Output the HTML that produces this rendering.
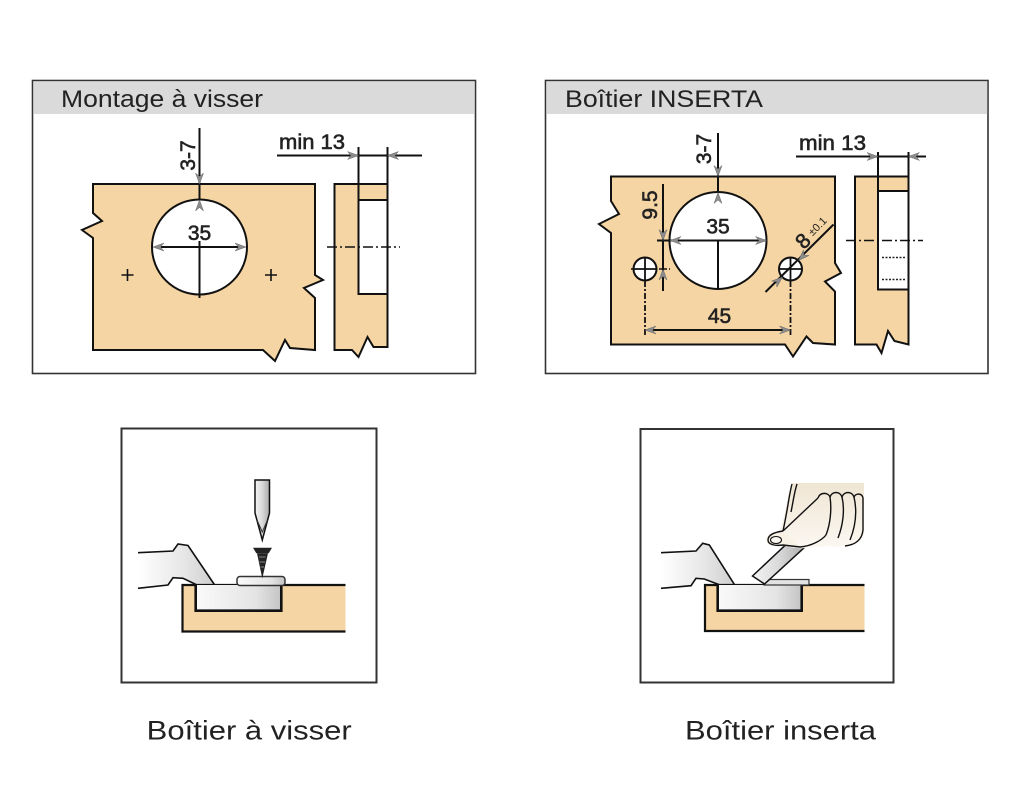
<!DOCTYPE html>
<html><head><meta charset="utf-8"><style>
html,body{margin:0;padding:0;background:#fff;}
svg{display:block;}
text{font-family:"Liberation Sans",Arial,sans-serif;fill:#222;}
.dim{font-size:21px;stroke:#222;stroke-width:0.6;}
.ln{stroke:#111;stroke-width:2;fill:none;}
.ar{stroke:none;fill:none;marker-end:url(#a);}
</style></head><body>
<svg width="1024" height="789" viewBox="0 0 1024 789" xmlns="http://www.w3.org/2000/svg">
<defs>
<marker id="a" markerWidth="11" markerHeight="9" refX="11" refY="4.5" orient="auto" markerUnits="userSpaceOnUse">
<path d="M0,0.5 L11,4.5 L0,8.5 L3.5,4.5 Z" fill="#8c8c8c" stroke="#666" stroke-width="0.5"/>
</marker>
<linearGradient id="hand" x1="0" y1="0" x2="1" y2="0">
<stop offset="0" stop-color="#fff"/><stop offset="0.6" stop-color="#e6e6e6"/><stop offset="1" stop-color="#cfcfcf"/>
</linearGradient>
<linearGradient id="cup" x1="0" y1="0" x2="1" y2="0">
<stop offset="0" stop-color="#fafafa"/><stop offset="0.7" stop-color="#e4e4e4"/><stop offset="1" stop-color="#c4c4c4"/>
</linearGradient>
<linearGradient id="steel" x1="0" y1="0" x2="1" y2="0">
<stop offset="0" stop-color="#f4f4f4"/><stop offset="0.5" stop-color="#d9d9d9"/><stop offset="1" stop-color="#aaa"/>
</linearGradient>
<linearGradient id="skin" x1="0" y1="0" x2="0" y2="1">
<stop offset="0" stop-color="#efe5d3"/><stop offset="1" stop-color="#fbf8f2"/>
</linearGradient>
</defs>

<!-- ============ TOP LEFT PANEL ============ -->
<rect x="32.5" y="80.5" width="443" height="293" fill="#fff" stroke="#333" stroke-width="1.6"/>
<rect x="33.3" y="81.3" width="441.4" height="32.7" fill="#dadada"/>
<text x="61" y="107" font-size="24" textLength="202" lengthAdjust="spacingAndGlyphs">Montage à visser</text>

<path d="M93,184 L315,184 L315,275 L323,280 L304,288 L315,298 L315,350 L290,348 L285,340 L275,361 L263,350 L93,350 L93,238 L82,230 L102,221 L93,213 Z" fill="#f5d5a3" stroke="#111" stroke-width="2" stroke-linejoin="miter"/>
<circle cx="199.5" cy="247" r="47.5" fill="#fff" stroke="#111" stroke-width="2"/>
<line class="ln" x1="199.5" y1="128" x2="199.5" y2="200"/>
<line class="ln" x1="199.5" y1="241" x2="199.5" y2="298"/>
<line class="ln" x1="155" y1="247" x2="244" y2="247"/>
<path class="ar" d="M199.5,170 L199.5,184"/>
<path class="ar" d="M199.5,213 L199.5,200"/>
<path class="ar" d="M166,247 L153,247"/>
<path class="ar" d="M233,247 L246,247"/>
<text class="dim" x="199.5" y="240" text-anchor="middle" font-size="22">35</text>
<text class="dim" transform="translate(195,155.5) rotate(-90)" text-anchor="middle">3-7</text>
<path d="M121.5,275 h12 M127.5,269 v12 M265,275 h12 M271,269 v12" stroke="#111" stroke-width="1.6"/>

<path d="M334.5,184 L387.5,184 L387.5,347 L373.5,347 L367.5,337 L358.5,357 L352,350 L334.5,350 Z" fill="#f5d5a3" stroke="#111" stroke-width="2"/>
<rect x="358.5" y="200" width="29" height="94" fill="#fff"/>
<path d="M358.5,147 L358.5,294 L387.5,294 M358.5,200 L387.5,200 M387.5,147 L387.5,347" class="ln"/>
<line class="ln" x1="277" y1="155.5" x2="422" y2="155.5"/>
<path class="ar" d="M345,155.5 L358.5,155.5"/>
<path class="ar" d="M401,155.5 L387.5,155.5"/>
<text class="dim" x="279" y="149" font-size="19" textLength="66" lengthAdjust="spacingAndGlyphs">min 13</text>
<line x1="327" y1="247" x2="400" y2="247" stroke="#111" stroke-width="1.6" stroke-dasharray="10,3,2,3"/>

<!-- ============ TOP RIGHT PANEL ============ -->
<rect x="545.5" y="80.5" width="442.5" height="293" fill="#fff" stroke="#333" stroke-width="1.6"/>
<rect x="546.3" y="81.3" width="440.9" height="32.7" fill="#dadada"/>
<text x="565" y="107" font-size="24" textLength="198" lengthAdjust="spacingAndGlyphs">Boîtier INSERTA</text>

<path d="M611,176.5 L835,176.5 L835,263 L841,273 L825,281.5 L835,291.5 L835,344.5 L813,343 L806.5,336.5 L793,356.5 L785,344.5 L611,344.5 L611,233 L599,224 L619,214 L611,201 Z" fill="#f5d5a3" stroke="#111" stroke-width="2"/>
<circle cx="718" cy="240.5" r="48.5" fill="#fff" stroke="#111" stroke-width="2"/>
<line class="ln" x1="718" y1="133" x2="718" y2="192.5"/>
<line class="ln" x1="718" y1="240" x2="718" y2="289"/>
<line class="ln" x1="657" y1="240.5" x2="765" y2="240.5"/>
<path class="ar" d="M718,163 L718,176.5"/>
<path class="ar" d="M718,205.5 L718,192.5"/>
<path class="ar" d="M683,240.5 L670,240.5"/>
<path class="ar" d="M753,240.5 L766.5,240.5"/>
<text class="dim" x="718" y="233.5" text-anchor="middle" font-size="22">35</text>
<text class="dim" transform="translate(711,149) rotate(-90)" text-anchor="middle">3-7</text>

<!-- 9.5 -->
<line class="ln" x1="663" y1="184" x2="663" y2="291" stroke-width="1.8"/>
<path class="ar" d="M663,227 L663,240.5"/>
<path class="ar" d="M663,282 L663,269"/>
<text class="dim" transform="translate(657,205) rotate(-90)" text-anchor="middle">9.5</text>

<!-- small holes -->
<line x1="631" y1="269" x2="670" y2="269" stroke="#111" stroke-width="1.6" stroke-dasharray="8,2,2,2"/>
<circle cx="645" cy="269" r="11.5" fill="#fff" stroke="#111" stroke-width="2"/>
<path d="M633.5,269 h23 M645,257.5 v23" stroke="#111" stroke-width="1.8"/>
<line x1="645" y1="281" x2="645" y2="336" stroke="#111" stroke-width="1.8" stroke-dasharray="6,2,2,2"/>
<circle cx="790.5" cy="269" r="11.5" fill="#fff" stroke="#111" stroke-width="2"/>
<path d="M779,269 h23 M790.5,257.5 v23" stroke="#111" stroke-width="1.8"/>
<line x1="790.5" y1="281" x2="790.5" y2="336" stroke="#111" stroke-width="1.8" stroke-dasharray="6,2,2,2"/>
<!-- 45 -->
<line class="ln" x1="647" y1="330" x2="789" y2="330"/>
<path class="ar" d="M658,330 L645,330"/>
<path class="ar" d="M777,330 L790.5,330"/>
<text class="dim" x="719.5" y="323" text-anchor="middle" font-size="22">45</text>
<!-- 8 ±0.1 -->
<line class="ln" x1="765.5" y1="292" x2="833.5" y2="224.5"/>
<path class="ar" d="M772,286 L782.5,277"/>
<path class="ar" d="M808,251 L798.5,260.5"/>
<text class="dim" transform="translate(808,246) rotate(-45)" text-anchor="middle" font-size="22">8</text>
<text transform="translate(820,229) rotate(-45)" text-anchor="middle" font-size="11">±0.1</text>

<!-- side view right -->
<path d="M855,176.5 L908.5,176.5 L908.5,344.5 L894.5,341 L888,331 L881.5,353 L876.5,344.5 L855,344.5 Z" fill="#f5d5a3" stroke="#111" stroke-width="2"/>
<rect x="878" y="191" width="30.5" height="98.5" fill="#fff"/>
<path d="M878,152 L878,289.5 L908.5,289.5 M878,191 L908.5,191 M908.5,152 L908.5,344.5" class="ln"/>
<path d="M882,257.5 h24 M882,279.5 h24" stroke="#222" stroke-width="1.6" stroke-dasharray="2,1.5"/>
<line class="ln" x1="796" y1="156.5" x2="926" y2="156.5"/>
<path class="ar" d="M864.5,156.5 L878,156.5"/>
<path class="ar" d="M922,156.5 L908.5,156.5"/>
<text class="dim" x="799" y="150" font-size="19" textLength="67" lengthAdjust="spacingAndGlyphs">min 13</text>
<line x1="846" y1="240.5" x2="923" y2="240.5" stroke="#111" stroke-width="1.6" stroke-dasharray="10,3,2,3"/>

<!-- ============ BOTTOM LEFT PANEL ============ -->
<rect x="121.5" y="428.5" width="255" height="254" fill="#fff" stroke="#333" stroke-width="2"/>
<path d="M138,552.7 L173,551 L178,544 L188,545.5 L214.7,585 L194.7,584.3 L183,578.3 L173,577.7 L168,585 L138,588.3 Z" fill="url(#hand)"/>
<path d="M138,552.7 L173,551 L178,544 L188,545.5 L214.7,585" fill="none" stroke="#111" stroke-width="1.6"/>
<path d="M138,588.3 L168,585 L173,577.7 L183,578.3 L196,584.5" fill="none" stroke="#111" stroke-width="1.6"/>
<rect x="182.5" y="585" width="163" height="46.5" fill="#f5d5a3"/>
<path d="M345.5,585 L182.5,585 L182.5,631.5 L345.5,631.5" fill="none" stroke="#111" stroke-width="2.2"/>
<rect x="195.7" y="585" width="85.6" height="25.7" fill="url(#cup)"/>
<path d="M195.7,585 L195.7,610.7 L281.3,610.7 L281.3,585" fill="none" stroke="#111" stroke-width="2.6"/>
<rect x="237" y="576.5" width="48" height="9" rx="3" fill="url(#cup)" stroke="#333" stroke-width="1.5"/>
<path d="M255,480 L269.5,480 L269.5,513 L262.3,540 L255,513 Z" fill="url(#steel)" stroke="#111" stroke-width="1.5"/>
<path d="M257,520 L262.3,532 L267.5,520" fill="none" stroke="#333" stroke-width="1"/>
<path d="M253,547.7 L272,547.7 L268.7,553.3 L256.3,553.3 Z" fill="#222"/>
<path d="M257,553.3 L268,553.3 L262.3,578.5 Z" fill="#222"/>
<path d="M259,557 L265.5,557 M259.5,562 L265,562 M260.5,567 L264,567" stroke="#aaa" stroke-width="0.8"/>

<!-- ============ BOTTOM RIGHT PANEL ============ -->
<rect x="640.5" y="429" width="253" height="253.5" fill="#fff" stroke="#333" stroke-width="2"/>
<path d="M661,552.7 L696,551 L702.7,543.3 L709.3,545 L734.3,584.3 L719.3,585 L704.3,579 L696,578.3 L691,585.7 L661,588.3 Z" fill="url(#hand)"/>
<path d="M661,552.7 L696,551 L702.7,543.3 L709.3,545 L734.3,584.3" fill="none" stroke="#111" stroke-width="1.6"/>
<path d="M661,588.3 L691,585.7 L696,578.3 L704.3,579 L720,585" fill="none" stroke="#111" stroke-width="1.6"/>
<rect x="705" y="585" width="159.5" height="46" fill="#f5d5a3"/>
<path d="M864.5,585 L705,585 L705,631 L864.5,631" fill="none" stroke="#111" stroke-width="2.2"/>
<rect x="717.7" y="585" width="84" height="25.7" fill="url(#cup)"/>
<path d="M717.7,585 L717.7,610.7 L801.7,610.7 L801.7,585" fill="none" stroke="#111" stroke-width="2.6"/>
<rect x="764" y="579.5" width="45" height="5.5" fill="#e2e2e2" stroke="#333" stroke-width="1.2"/>
<path d="M752.5,576 L764.5,584 L806,546 L794,537 Z" fill="url(#steel)" stroke="#111" stroke-width="1.5"/>
<!-- right hand -->
<path d="M792,483 L864,483 L864,535 C858,545 845,548 830,546 L805,548 C798,549 790,547 785,546 L772,545.5 C764,545 764,535 772,533.5 L780,531 C784,518 787,505 788,495 Z" fill="url(#skin)"/>
<path d="M792,484 C789,495 788,508 783,531" fill="none" stroke="#111" stroke-width="1.4"/>
<path d="M797,484 C794,493 793,503 791,512" fill="none" stroke="#111" stroke-width="1.4"/>
<path d="M783,531 C776,532 768,534 768,540 C768,545 776,546 783,545 L800,547" fill="#f7f1e6" stroke="#111" stroke-width="1.4"/>
<ellipse cx="776" cy="540" rx="5.5" ry="3.5" fill="#fbf8f2" stroke="#111" stroke-width="1.1"/>
<path d="M783,531 L818,498" fill="none" stroke="#111" stroke-width="1.4"/>
<path d="M818,498 C820,492 828,492 830,497 C832,491 840,491 842,497 C844,491 852,491 854,497 C856,493 862,493 863,498" fill="none" stroke="#111" stroke-width="1.4"/>
<path d="M830,497 C832,510 830,525 826,535 M842,497 C845,510 843,525 838,538 M854,497 C857,510 856,525 850,540 M863,498 L863,530 C862,540 855,545 845,546" fill="none" stroke="#111" stroke-width="1.4"/>
<path d="M800,547 C812,546 822,540 826,535" fill="none" stroke="#111" stroke-width="1.4"/>

<!-- captions -->
<text x="146.7" y="739.5" font-size="27" textLength="205" lengthAdjust="spacingAndGlyphs">Boîtier à visser</text>
<text x="685" y="739.5" font-size="27" textLength="191" lengthAdjust="spacingAndGlyphs">Boîtier inserta</text>
</svg>
</body></html>
